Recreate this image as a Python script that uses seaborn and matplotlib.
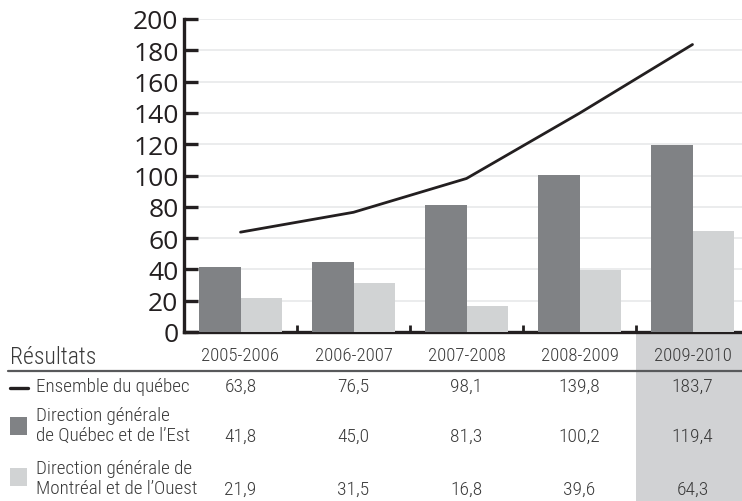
import numpy as np
import pandas as pd
import matplotlib
matplotlib.use("Agg")
import matplotlib.pyplot as plt
import matplotlib.transforms as mtransforms
from matplotlib.patches import Rectangle
from matplotlib.lines import Line2D
import seaborn as sns

# Data
periods = ["2005-2006", "2006-2007", "2007-2008", "2008-2009", "2009-2010"]
ensemble = [63.8, 76.5, 98.1, 139.8, 183.7]
quebec_est = [41.8, 45.0, 81.3, 100.2, 119.4]
montreal_ouest = [21.9, 31.5, 16.8, 39.6, 64.3]
series_labels = ["Ensemble du québec",
                 "Direction générale\nde Québec et de l\u2019Est",
                 "Direction générale de\nMontréal et de l\u2019Ouest"]
yticks = [0, 20, 40, 60, 80, 100, 120, 140, 160, 180, 200]

DARK = "#808285"
LIGHT = "#d1d3d4"
INK = "#231f20"
TXT = "#3a3a3a"
BAND = "#d1d2d4"

sns.set_theme(style="white")
plt.rcParams["font.family"] = ["Open Sans", "DejaVu Sans"]
TABLE_FONT = ["Roboto Condensed", "Liberation Sans Narrow", "DejaVu Sans"]
TABLE_KW = dict(family=TABLE_FONT, fontstretch="condensed",
                fontweight="light", color=TXT)

W, H = 742, 502
fig = plt.figure(figsize=(W / 100, H / 100), dpi=100)

# Axes: y-spine at x=184 px, baseline at y=333 px, top at y=20 px
left_px, right_px, bottom_px, top_px = 184, 749, 333, 20
ax = fig.add_axes([left_px / W, (H - bottom_px) / H,
                   (right_px - left_px) / W, (bottom_px - top_px) / H])

bars = pd.DataFrame({
    "period": periods * 2,
    "value": quebec_est + montreal_ouest,
    "serie": ["est"] * len(periods) + ["ouest"] * len(periods),
})
sns.barplot(data=bars, x="period", y="value", hue="serie",
            palette=[DARK, LIGHT], saturation=1, width=0.74,
            linewidth=0, legend=False, ax=ax, zorder=3)
sns.lineplot(x=np.arange(len(periods)), y=ensemble, color=INK,
             linewidth=2.0, ax=ax, zorder=4)

ax.set_xlim(-0.5, len(periods) - 0.5)
ax.set_ylim(0, 200)
ax.set_xlabel("")
ax.set_ylabel("")

# Y axis styling
ax.set_yticks(yticks)
ax.set_yticklabels([str(v) for v in yticks], fontsize=19, color=INK)
ax.tick_params(axis="y", direction="in", length=10, width=2.4,
               color=INK, pad=4, left=True)
ax.yaxis.grid(True, color="#e6e7e8", linewidth=1.1, zorder=0)
ax.set_axisbelow(True)

# X axis: small inward ticks at category boundaries, no labels
ax.set_xticks(np.arange(len(periods) - 1) + 0.5)
ax.set_xticklabels([])
ax.tick_params(axis="x", direction="in", length=5, width=2, color=INK,
               bottom=True)
for side in ["top", "right"]:
    ax.spines[side].set_visible(False)
for side in ["left", "bottom"]:
    ax.spines[side].set_color(INK)
    ax.spines[side].set_linewidth(2.4)

# Table under the chart: x in data units, y in figure pixels from the top
tr = mtransforms.blended_transform_factory(ax.transData, fig.transFigure)
def fy(px):
    return (H - px) / H

# Shaded column for the latest period
ax.add_patch(Rectangle((len(periods) - 1.5, 0), 1.2, fy(335), transform=tr,
                       facecolor=BAND, edgecolor="none", clip_on=False,
                       zorder=0))

fig.text(10 / W, fy(357), "Résultats", fontsize=17, va="center",
         ha="left", **TABLE_KW)
for i, p in enumerate(periods):
    fig.text(i, fy(356), p, transform=tr, fontsize=13.5, ha="center",
             va="center", **TABLE_KW)

fig.add_artist(Line2D([8 / W, 1.0], [fy(372), fy(372)], color="#58595b",
                      linewidth=1.6))

def fmt(v):
    return f"{v:.1f}".replace(".", ",")

row_text_y = [387, 426, 479]
row_value_y = [387, 437, 490]
for label, ty in zip(series_labels, row_text_y):
    fig.text(36 / W, fy(ty), label, fontsize=13.8, ha="left", va="center",
             linespacing=1.15, **TABLE_KW)
for values, vy in zip([ensemble, quebec_est, montreal_ouest], row_value_y):
    for i, v in enumerate(values):
        fig.text(i, fy(vy), fmt(v), transform=tr, fontsize=14,
                 ha="center", va="center", **TABLE_KW)

# Legend keys
fig.add_artist(Line2D([10 / W, 28 / W], [fy(389), fy(389)], color=INK,
                      linewidth=2.4))
fig.add_artist(Rectangle((10 / W, fy(436)), 17 / W, 18 / H,
                         transform=fig.transFigure, facecolor=DARK,
                         edgecolor="none"))
fig.add_artist(Rectangle((10 / W, fy(487)), 17 / W, 18 / H,
                         transform=fig.transFigure, facecolor=LIGHT,
                         edgecolor="none"))

fig.savefig("out.png", dpi=100)
